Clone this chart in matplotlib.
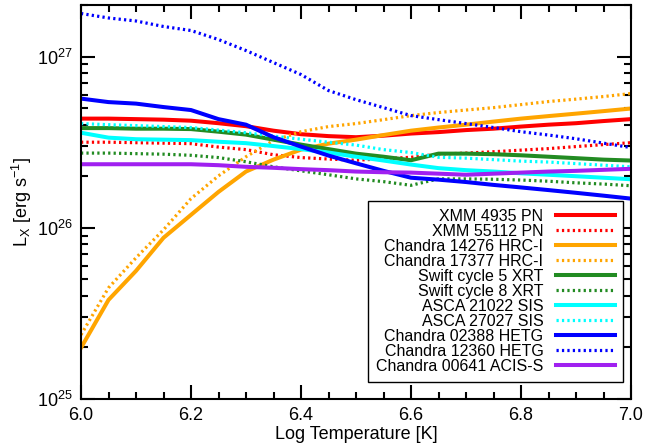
import matplotlib
matplotlib.use('Agg')
import matplotlib.pyplot as plt
from matplotlib.ticker import FixedLocator, MultipleLocator, LogLocator, NullFormatter

# style
plt.rcParams['font.family'] = ['Liberation Sans', 'DejaVu Sans']
plt.rcParams['mathtext.fontset'] = 'custom'
plt.rcParams['mathtext.rm'] = 'Liberation Sans'
plt.rcParams['mathtext.it'] = 'Liberation Sans:italic'
plt.rcParams['mathtext.default'] = 'regular'
plt.rcParams['font.size'] = 12
plt.rcParams['axes.linewidth'] = 1.5

# data (luminosity in units of 1e26 erg/s)
log_t = [6.00, 6.05, 6.10, 6.15, 6.20, 6.25, 6.30, 6.35, 6.40, 6.45, 6.50,
         6.55, 6.60, 6.65, 6.70, 6.75, 6.80, 6.85, 6.90, 6.95, 7.00]

xmm_4935 = [4.34, 4.34, 4.31, 4.28, 4.22, 4.08, 3.92, 3.69, 3.52, 3.43, 3.38,
            3.45, 3.55, 3.62, 3.72, 3.79, 3.90, 4.00, 4.08, 4.20, 4.31]
xmm_55112 = [3.16, 3.16, 3.14, 3.12, 3.10, 2.96, 2.86, 2.67, 2.57, 2.52, 2.48,
             2.53, 2.58, 2.69, 2.73, 2.78, 2.84, 2.90, 2.98, 3.06, 3.14]
hrc_14276 = [0.199, 0.379, 0.560, 0.874, 1.19, 1.62, 2.13, 2.50, 2.86, 3.10, 3.27,
             3.48, 3.69, 3.85, 4.00, 4.17, 4.34, 4.49, 4.64, 4.80, 4.97]
hrc_17377 = [0.237, 0.446, 0.668, 0.973, 1.48, 2.01, 2.60, 3.23, 3.64, 3.90, 4.06,
             4.28, 4.52, 4.71, 4.87, 5.03, 5.24, 5.46, 5.64, 5.84, 6.08]
swift_c5 = [3.82, 3.82, 3.79, 3.79, 3.77, 3.64, 3.50, 3.27, 3.06, 2.88, 2.71,
            2.60, 2.48, 2.71, 2.71, 2.69, 2.65, 2.60, 2.55, 2.50, 2.47]
swift_c8 = [2.73, 2.73, 2.71, 2.69, 2.65, 2.57, 2.43, 2.27, 2.15, 2.04, 1.93,
            1.86, 1.77, 1.93, 1.93, 1.92, 1.90, 1.87, 1.83, 1.80, 1.76]
asca_21022 = [3.59, 3.36, 3.29, 3.27, 3.25, 3.18, 3.12, 3.00, 2.88, 2.75, 2.60,
              2.47, 2.34, 2.23, 2.17, 2.13, 2.08, 2.04, 2.00, 1.96, 1.92]
asca_27027 = [4.06, 4.00, 3.95, 3.90, 3.85, 3.72, 3.59, 3.43, 3.29, 3.16, 3.04,
              2.86, 2.75, 2.58, 2.55, 2.50, 2.45, 2.42, 2.37, 2.32, 2.27]
hetg_02388 = [5.68, 5.42, 5.31, 5.07, 4.87, 4.31, 4.00, 3.38, 2.98, 2.64, 2.38,
              2.15, 1.96, 1.91, 1.85, 1.78, 1.72, 1.66, 1.60, 1.54, 1.48]
hetg_12360 = [17.84, 16.80, 16.13, 14.98, 14.19, 12.57, 10.84, 9.22, 7.85, 6.33, 5.60,
              5.03, 4.52, 4.28, 4.06, 3.85, 3.64, 3.48, 3.31, 3.12, 2.94]
acis_00641 = [2.35, 2.35, 2.35, 2.35, 2.35, 2.32, 2.27, 2.24, 2.20, 2.17, 2.13,
              2.11, 2.10, 2.07, 2.04, 2.07, 2.10, 2.13, 2.15, 2.18, 2.21]

series = [
    ('XMM 4935 PN', xmm_4935, 'red', '-'),
    ('XMM 55112 PN', xmm_55112, 'red', ':'),
    ('Chandra 14276 HRC-I', hrc_14276, 'orange', '-'),
    ('Chandra 17377 HRC-I', hrc_17377, 'orange', ':'),
    ('Swift cycle 5 XRT', swift_c5, 'forestgreen', '-'),
    ('Swift cycle 8 XRT', swift_c8, 'forestgreen', ':'),
    ('ASCA 21022 SIS', asca_21022, 'cyan', '-'),
    ('ASCA 27027 SIS', asca_27027, 'cyan', ':'),
    ('Chandra 02388 HETG', hetg_02388, 'blue', '-'),
    ('Chandra 12360 HETG', hetg_12360, 'blue', ':'),
    ('Chandra 00641 ACIS-S', acis_00641, '#a020f0', '-'),
]

fig = plt.figure(figsize=(6.6, 4.44), dpi=100)
ax = fig.add_axes([81 / 660, 1 - 399 / 444, 550 / 660, 394 / 444])

for label, vals, color, ls in series:
    y = [v * 1e26 for v in vals]
    if ls == '-':
        ax.plot(log_t, y, '-', color=color, lw=2.9, label=label, solid_joinstyle='miter')
    else:
        ax.plot(log_t, y, color=color, lw=2.3, ls=(0, (0.7, 1.0)), label=label)

# axis configs
ax.set_yscale('log')
ax.set_xlim(6.0, 7.0)
ax.set_ylim(1e25, 2e27)
ax.set_xticks([6.0, 6.2, 6.4, 6.6, 6.8, 7.0])
ax.set_xticklabels(['6.0', '6.2', '6.4', '6.6', '6.8', '7.0'])
ax.xaxis.set_minor_locator(MultipleLocator(0.05))
ax.yaxis.set_major_locator(FixedLocator([1e25, 1e26, 1e27]))
ax.yaxis.set_minor_locator(LogLocator(base=10, subs=range(2, 10)))
ax.yaxis.set_minor_formatter(NullFormatter())
ax.set_yticklabels([r'$10^{25}$', r'$10^{26}$', r'$10^{27}$'])

ax.tick_params(which='both', direction='in', top=True, right=True, width=1.5)
ax.tick_params(which='major', length=10, labelsize=13, pad=6)
ax.tick_params(which='minor', length=5)

ax.set_xlabel('Log Temperature [K]', fontsize=13, labelpad=1)
ax.set_ylabel(r'L$_X$ [erg s$^{-1}$]', fontsize=13, labelpad=2)

leg = ax.legend(loc='lower right', bbox_to_anchor=(0.986, 0.043), borderaxespad=0,
                markerfirst=False, fontsize=11.5, handlelength=3.7, labelspacing=0.0,
                handletextpad=0.8, borderpad=0.5, fancybox=False, framealpha=1,
                edgecolor='black')
leg.get_frame().set_linewidth(1.0)

plt.savefig('out.png', dpi=100)
plt.close()
